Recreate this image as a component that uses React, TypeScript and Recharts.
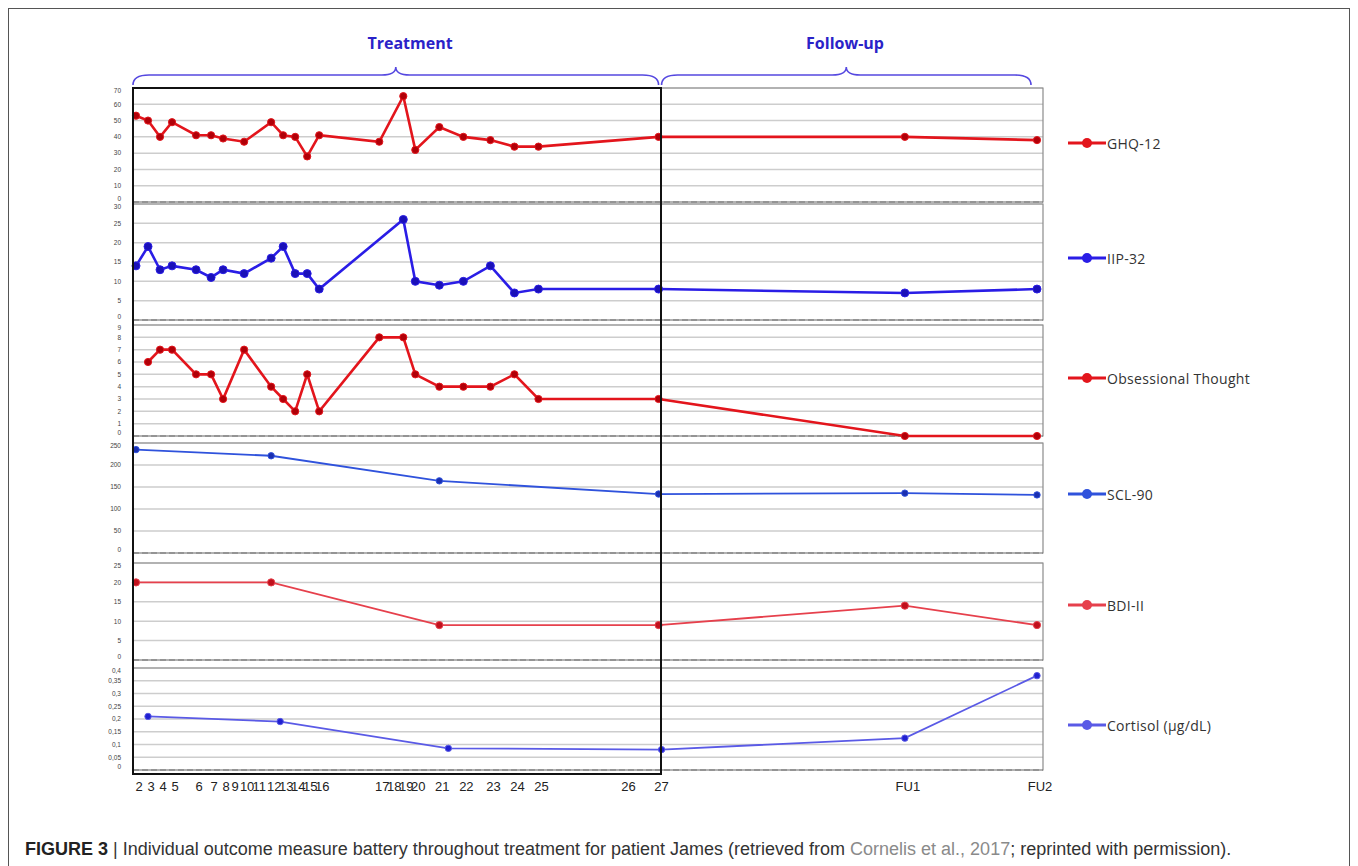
import React from 'react';
import { LineChart, Line, XAxis, YAxis, CartesianGrid, ReferenceLine, ReferenceArea } from 'recharts';

// session labels on the x axis and their (estimated) day of measurement
const sessionLabels = ['2', '3', '4', '5', '6', '7', '8', '9', '10', '11', '12', '13', '14', '15', '16', '17', '18', '19', '20', '21', '22', '23', '24', '25', '26', '27', 'FU1', 'FU2'];
const sessionDays = [1, 5, 9, 13, 21, 26, 30, 33, 37, 41, 46, 50, 54, 58, 62, 82, 86, 90, 94, 102, 110, 119, 127, 135, 164, 175, 257, 301];

const ghqSessions = ['2', '3', '4', '5', '6', '7', '8', '10', '12', '13', '14', '15', '16', '17', '19', '20', '21', '22', '23', '24', '25', '27', 'FU1', 'FU2'];
const ghqValues = [53, 50, 40, 49, 41, 41, 39, 37, 49, 41, 40, 28, 41, 37, 65, 32, 46, 40, 38, 34, 34, 40, 40, 38];

const iipSessions = ['2', '3', '4', '5', '6', '7', '8', '10', '12', '13', '14', '15', '16', '19', '20', '21', '22', '23', '24', '25', '27', 'FU1', 'FU2'];
const iipValues = [14, 19, 13, 14, 13, 11, 13, 12, 16, 19, 12, 12, 8, 26, 10, 9, 10, 14, 7, 8, 8, 7, 8];

const obsSessions = ['3', '4', '5', '6', '7', '8', '10', '12', '13', '14', '15', '16', '17', '19', '20', '21', '22', '23', '24', '25', '27', 'FU1', 'FU2'];
const obsValues = [6, 7, 7, 5, 5, 3, 7, 4, 3, 2, 5, 2, 8, 8, 5, 4, 4, 4, 5, 3, 3, 0, 0];

const sclSessions = ['2', '12', '21', '27', 'FU1', 'FU2'];
const sclValues = [235, 221, 164, 134, 136, 132];

const bdiSessions = ['2', '12', '21', '27', 'FU1', 'FU2'];
const bdiValues = [20, 20, 9, 9, 14, 9];

// cortisol samples were taken on slightly different days
const cortisolDays = [5, 49, 105, 176, 257, 301];
const cortisolValues = [0.21, 0.19, 0.085, 0.08, 0.125, 0.37];

const DOMAIN_MAX = 303;
const dayOf = (s: string) => sessionDays[sessionLabels.indexOf(s)];
const toPoints = (sessions: string[], values: number[]) => sessions.map((s, i) => ({ day: dayOf(s), value: values[i] }));

// layout (page coords minus the 8px body margin)
const PLOT_LEFT = 125;
const PLOT_RIGHT = 1035;
const CHART_W = 1050;
const xPx = (day: number) => PLOT_LEFT + (day / DOMAIN_MAX) * (PLOT_RIGHT - PLOT_LEFT);

const comma = (v: number) => String(v).replace('.', ',');

const panels = [
  { name: 'GHQ-12', data: toPoints(ghqSessions, ghqValues), max: 70, ticks: [0, 10, 20, 30, 40, 50, 60, 70], color: '#e3151c', dot: '#b00008', width: 2.6, r: 3.6, top: 80, bottom: 194, legend: 135 },
  { name: 'IIP-32', data: toPoints(iipSessions, iipValues), max: 30, ticks: [0, 5, 10, 15, 20, 25, 30], color: '#2a1de6', dot: '#1a10b8', width: 2.6, r: 4, top: 196, bottom: 312, legend: 250 },
  { name: 'Obsessional Thought', data: toPoints(obsSessions, obsValues), max: 9, ticks: [0, 1, 2, 3, 4, 5, 6, 7, 8, 9], color: '#e3151c', dot: '#b00008', width: 2.6, r: 3.6, top: 317, bottom: 428, legend: 370 },
  { name: 'SCL-90', data: toPoints(sclSessions, sclValues), max: 250, ticks: [0, 50, 100, 150, 200, 250], color: '#2f52dc', dot: '#1a2fb0', width: 1.8, r: 3.2, top: 435, bottom: 545, legend: 486 },
  { name: 'BDI-II', data: toPoints(bdiSessions, bdiValues), max: 25, ticks: [0, 5, 10, 15, 20, 25], color: '#e6404c', dot: '#c0101c', width: 1.8, r: 3.6, top: 555, bottom: 652, legend: 597 },
  { name: 'Cortisol (µg/dL)', data: cortisolDays.map((d, i) => ({ day: d, value: cortisolValues[i] })), max: 0.4, ticks: [0, 0.05, 0.1, 0.15, 0.2, 0.25, 0.3, 0.35, 0.4], color: '#5a5ae6', dot: '#2020d0', width: 1.8, r: 3.2, top: 660, bottom: 762, legend: 717 },
];

const M_TOP = 4;
const M_BOT = 4;
const XAXIS_H = 24;

// tiny y labels; nudge the end ones inwards so neighbouring panels don't collide
const YTick = (props: any) => {
  const { x, y, payload, max } = props;
  const shift = payload.value === max ? 3 : payload.value === 0 ? -3 : 0;
  return (
    <text x={x} y={y + shift} dy={2.3} textAnchor="end" fontSize={6.5} fill="#444" fontFamily='"Liberation Sans", sans-serif'>
      {comma(payload.value)}
    </text>
  );
};

const Brace = ({ x1, x2 }: { x1: number; x2: number }) => {
  const xm = (x1 + x2) / 2;
  const endY = 77, midY = 67, peakY = 59;
  const d = `M ${x1} ${endY} Q ${x1} ${midY} ${x1 + 16} ${midY} L ${xm - 14} ${midY} Q ${xm} ${midY} ${xm} ${peakY} Q ${xm} ${midY} ${xm + 14} ${midY} L ${x2 - 16} ${midY} Q ${x2} ${midY} ${x2} ${endY}`;
  return <path d={d} fill="none" stroke="#5548e0" strokeWidth={1.6} />;
};

export default function App() {
  const x27 = xPx(dayOf('27'));
  return (
    <div style={{ position: 'relative', width: 1342, height: 858, fontFamily: '"Liberation Sans", Arial, sans-serif' }}>
      <div style={{ position: 'absolute', left: 0, top: 0, width: 1340, height: 870, border: '1px solid #555' }} />

      <svg style={{ position: 'absolute', left: 0, top: 0 }} width={1342} height={90}>
        <Brace x1={PLOT_LEFT} x2={x27} />
        <Brace x1={x27 + 3} x2={xPx(dayOf('FU2')) - 6} />
        <text x={402} y={41} textAnchor="middle" fontFamily='"Open Sans", sans-serif' fontWeight={700} fontSize={16} fill="#2a22c8">Treatment</text>
        <text x={837} y={41} textAnchor="middle" fontFamily='"Open Sans", sans-serif' fontWeight={700} fontSize={16} fill="#2a22c8">Follow-up</text>
      </svg>

      {panels.map((p, idx) => {
        const last = idx === panels.length - 1;
        const h = p.bottom - p.top + M_TOP + M_BOT + (last ? XAXIS_H : 0);
        return (
          <div key={p.name} style={{ position: 'absolute', left: 0, top: p.top - M_TOP }}>
            <LineChart width={CHART_W} height={h} margin={{ top: M_TOP, right: CHART_W - PLOT_RIGHT, bottom: M_BOT, left: PLOT_LEFT - 30 }}>
              <CartesianGrid vertical={false} stroke="#cdcdcd" strokeWidth={1.5} />
              <XAxis
                type="number"
                dataKey="day"
                domain={[0, DOMAIN_MAX]}
                ticks={sessionDays}
                interval={0}
                hide={!last}
                height={XAXIS_H}
                axisLine={false}
                tickLine={false}
                tickMargin={6}
                tickFormatter={(d: number) => sessionLabels[sessionDays.indexOf(d)]}
                tick={{ fontSize: 13, fill: '#222', fontFamily: '"Liberation Sans Narrow", "Liberation Sans", sans-serif', dx: 3 }}
              />
              <YAxis
                type="number"
                domain={[0, p.max]}
                ticks={p.ticks}
                interval={0}
                width={30}
                axisLine={false}
                tickLine={false}
                tickSize={0}
                tickMargin={12}
                tick={<YTick max={p.max} />}
              />
              <ReferenceArea x1={0} x2={DOMAIN_MAX} y1={0} y2={p.max} fill="none" fillOpacity={0} stroke="#8c8c8c" strokeWidth={1.2} />
              <ReferenceLine y={0} stroke="#8a8a8a" strokeWidth={1.5} strokeDasharray="6 3" />
              <Line
                data={p.data}
                dataKey="value"
                type="linear"
                stroke={p.color}
                strokeWidth={p.width}
                dot={{ r: p.r, fill: p.dot, stroke: p.color, strokeWidth: 1 }}
                isAnimationActive={false}
              />
            </LineChart>
          </div>
        );
      })}

      {/* treatment frame */}
      <div style={{ position: 'absolute', left: PLOT_LEFT - 1, top: 79, width: x27 - PLOT_LEFT, height: 684, border: '2px solid #111', pointerEvents: 'none' }} />

      {panels.map((p) => (
        <div key={'lg' + p.name} style={{ position: 'absolute', left: 1060, top: p.legend - 10, height: 20, display: 'flex', alignItems: 'center' }}>
          <svg width={38} height={12}>
            <line x1={0} y1={6} x2={38} y2={6} stroke={p.color} strokeWidth={3} />
            <circle cx={19} cy={6} r={5} fill={p.color} />
          </svg>
          <span style={{ fontFamily: '"Open Sans", sans-serif', fontSize: 14, letterSpacing: 0.3, color: '#333', marginLeft: 1 }}>{p.name}</span>
        </div>
      ))}

      <div style={{ position: 'absolute', left: 17, top: 831, fontSize: 18, color: '#333', whiteSpace: 'nowrap' }}>
        <b style={{ color: '#222' }}>FIGURE 3</b> | Individual outcome measure battery throughout treatment for patient James (retrieved from <span style={{ color: '#8a8a8a' }}>Cornelis et al., 2017</span>; reprinted with permission).
      </div>
    </div>
  );
}
